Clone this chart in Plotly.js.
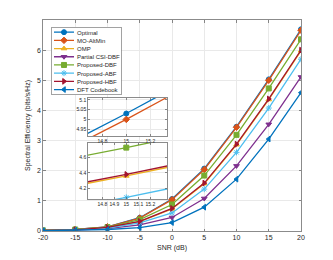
<!DOCTYPE html>
<html>
<head>
<meta charset="utf-8">
<script src="https://cdn.plot.ly/plotly-3.0.1.min.js"></script>
<style>html,body{margin:0;padding:0;background:#fff;}#chart{width:333px;height:260px;}</style>
</head>
<body>
<div id="chart"></div>
<script>
// ---- data ----
const snr = [-20, -15, -10, -5, 0, 5, 10, 15, 20];
const optimal  = [0.02, 0.05, 0.14, 0.44, 1.06, 2.07, 3.46, 5.03, 6.69];
const moAltMin = [0.02, 0.05, 0.14, 0.43, 1.04, 2.04, 3.44, 5.00, 6.66];
const omp      = [0.02, 0.04, 0.12, 0.31, 0.73, 1.57, 2.86, 4.36, 5.98];
const partialCSI = [0.01, 0.03, 0.08, 0.20, 0.45, 1.08, 2.16, 3.54, 5.11];
const propDBF  = [0.02, 0.05, 0.13, 0.38, 0.88, 1.84, 3.19, 4.73, 6.36];
const propABF  = [0.01, 0.04, 0.10, 0.27, 0.60, 1.39, 2.61, 4.08, 5.70];
const propHBF  = [0.02, 0.04, 0.12, 0.32, 0.75, 1.59, 2.88, 4.38, 6.00];
const dftCodebook = [0.01, 0.02, 0.05, 0.11, 0.28, 0.79, 1.72, 3.05, 4.59];

const xTicks = [-20, -15, -10, -5, 0, 5, 10, 15, 20];
const yTicks = [0, 1, 2, 3, 4, 5, 6];
const inset1YTicks = [4.95, 5, 5.05, 5.1];
const inset1XTicks = [14.8, 15, 15.2];
const inset2YTicks = [4.2, 4.4, 4.6];
const inset2XTicks = [14.8, 14.9, 15, 15.1, 15.2];

const series = [
  {name: 'Optimal', y: optimal, color: '#0072BD', symbol: 'circle', inset: 1},
  {name: 'MO-AltMin', y: moAltMin, color: '#D95319', symbol: 'diamond', inset: 1},
  {name: 'OMP', y: omp, color: '#EDB120', symbol: 'triangle-up', inset: 2},
  {name: 'Partial CSI-DBF', y: partialCSI, color: '#7E2F8E', symbol: 'triangle-down', inset: 0},
  {name: 'Proposed-DBF', y: propDBF, color: '#77AC30', symbol: 'square', inset: 2},
  {name: 'Proposed-ABF', y: propABF, color: '#4DBEEE', symbol: 'asterisk-open', inset: 2},
  {name: 'Proposed-HBF', y: propHBF, color: '#A2142F', symbol: 'triangle-right', inset: 2},
  {name: 'DFT Codebook', y: dftCodebook, color: '#0072BD', symbol: 'triangle-left', inset: 0}
];

function mk(s, xa, ya, show) {
  return {
    x: snr, y: s.y, name: s.name, type: 'scatter', mode: 'lines+markers',
    xaxis: xa, yaxis: ya, showlegend: show, cliponaxis: true,
    line: {color: s.color, width: 1.3},
    marker: {symbol: s.symbol, size: 5, color: s.color, line: {color: s.color, width: 1}}
  };
}

const data = [];
series.forEach(s => data.push(mk(s, 'x', 'y', true)));
series.filter(s => s.inset === 1).forEach(s => data.push(mk(s, 'x2', 'y2', false)));
series.filter(s => s.inset === 2).forEach(s => data.push(mk(s, 'x3', 'y3', false)));

const font = {family: '"Liberation Sans", Arial, Helvetica, sans-serif', size: 7, color: '#262626'};
const axBase = {
  showgrid: true, gridcolor: '#e9e9e9', gridwidth: 1,
  showline: true, linecolor: '#5a5a5a', linewidth: 0.7, mirror: 'ticks',
  ticks: 'inside', ticklen: 2.5, tickcolor: '#5a5a5a', tickwidth: 0.7,
  zeroline: false, fixedrange: true
};
const insetFont = {family: font.family, size: 5, color: '#262626'};

const layout = {
  width: 333, height: 260,
  margin: {l: 43, r: 32, t: 20, b: 29},
  paper_bgcolor: '#fff', plot_bgcolor: '#fff',
  font: font,
  showlegend: true,
  legend: {
    x: 0.031, y: 0.967, xanchor: 'left', yanchor: 'top',
    bgcolor: '#fff', bordercolor: '#7a7a7a', borderwidth: 0.7,
    font: {family: font.family, size: 6, color: '#262626'}
  },
  xaxis: Object.assign({}, axBase, {
    range: [-20, 20], tickvals: xTicks, ticktext: xTicks.map(String),
    title: {text: 'SNR (dB)', font: {family: font.family, size: 7, color: '#262626'}, standoff: 4},
    tickfont: font, tickangle: 0
  }),
  yaxis: Object.assign({}, axBase, {
    range: [0, 7], tickvals: yTicks, ticktext: yTicks.map(String),
    title: {text: 'Spectral Efficiency (bits/s/Hz)', font: {family: font.family, size: 7, color: '#262626'}, standoff: 5},
    tickfont: font
  }),
  xaxis2: Object.assign({}, axBase, {
    domain: [0.174, 0.481], anchor: 'y2', range: [14.68, 15.34], tickangle: 0,
    tickvals: inset1XTicks, ticktext: inset1XTicks.map(String), tickfont: insetFont, ticklen: 2
  }),
  yaxis2: Object.assign({}, axBase, {
    domain: [0.45, 0.63], anchor: 'x2', range: [4.915, 5.109],
    tickvals: inset1YTicks, ticktext: inset1YTicks.map(String), tickfont: insetFont, ticklen: 2
  }),
  xaxis3: Object.assign({}, axBase, {
    domain: [0.174, 0.481], anchor: 'y3', range: [14.68, 15.34], tickangle: 0,
    tickvals: inset2XTicks, ticktext: inset2XTicks.map(String), tickfont: insetFont, ticklen: 2
  }),
  yaxis3: Object.assign({}, axBase, {
    domain: [0.152, 0.417], anchor: 'x3', range: [4.06, 4.79],
    tickvals: inset2YTicks, ticktext: inset2YTicks.map(String), tickfont: insetFont, ticklen: 2
  })
};

Plotly.newPlot('chart', data, layout, {staticPlot: true, displayModeBar: false}).then(gd => {
  // compact the legend to match the reference spacing
  const leg = gd.querySelector('.legend');
  if (!leg) return;
  const items = leg.querySelectorAll('g.traces');
  const step = 8.2;
  items.forEach((g, i) => {
    g.setAttribute('transform', 'translate(1,' + (5.2 + i * step) + ')');
    const t = g.querySelector('text.legendtext');
    if (t) t.setAttribute('x', 25);
    g.querySelectorAll('.legendlines path').forEach(p => p.setAttribute('d', 'M2,0h20'));
    g.querySelectorAll('.legendsymbols path, .legendpoints path').forEach(p => p.setAttribute('transform', 'translate(12,0)'));
  });
  const bg = leg.querySelector('rect.bg');
  if (bg) { bg.setAttribute('width', 70); bg.setAttribute('height', 8 * step + 2); }
  const sb = leg.querySelector('.scrollbar');
  if (sb) sb.style.display = 'none';
});
</script>
</body>
</html>
